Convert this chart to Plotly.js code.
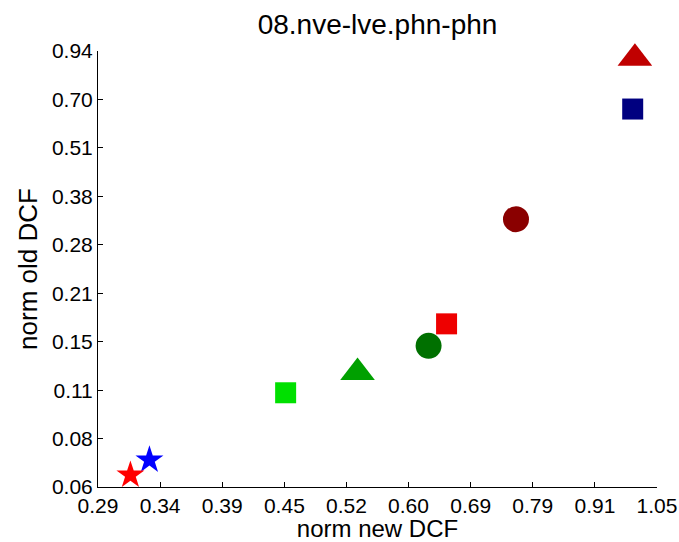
<!DOCTYPE html>
<html>
<head>
<meta charset="utf-8">
<script src="https://cdn.plot.ly/plotly-3.0.1.min.js"></script>
<style>html,body{margin:0;padding:0;background:#fff;}#chart{width:679px;height:542px;}</style>
</head>
<body>
<div id="chart"></div>
<script>
// data values (log-log axes)
const newDCF = [0.997, 0.992, 0.761, 0.650, 0.624, 0.531, 0.451, 0.331, 0.317];
const oldDCF = [0.898, 0.655, 0.330, 0.172, 0.150, 0.127, 0.112, 0.0737, 0.0671];

// marker styles
const symbols = ['triangle-up', 'square', 'circle', 'square', 'circle', 'triangle-up', 'square', 'star', 'star'];
const colors  = ['#c00000', '#000080', '#8a0000', '#ee0000', '#007000', '#00a000', '#00e000', '#0000ff', '#ff0000'];
const sizes   = [30, 21, 26, 21, 26, 30, 21, 21, 21];

// tick positions and labels
const xTickVals = [0.2945, 0.3391, 0.3905, 0.4497, 0.5178, 0.5962, 0.6866, 0.7906, 0.9104, 1.0483];
const xTickText = ['0.29', '0.34', '0.39', '0.45', '0.52', '0.60', '0.69', '0.79', '0.91', '1.05'];
const yTickVals = [0.0623, 0.0842, 0.1138, 0.1539, 0.2081, 0.2813, 0.3803, 0.5142, 0.6952, 0.94];
const yTickText = ['0.06', '0.08', '0.11', '0.15', '0.21', '0.28', '0.38', '0.51', '0.70', '0.94'];

const font = 'Liberation Sans, Arial, Helvetica, sans-serif';

const trace = {
  x: newDCF,
  y: oldDCF,
  mode: 'markers',
  type: 'scatter',
  cliponaxis: false,
  marker: {symbol: symbols, color: colors, size: sizes, opacity: 1, line: {width: 0}},
  hoverinfo: 'x+y'
};

const layout = {
  width: 679,
  height: 542,
  margin: {l: 98, r: 22, t: 51, b: 55},
  paper_bgcolor: '#fff',
  plot_bgcolor: '#fff',
  showlegend: false,
  font: {family: font, color: '#000'},
  title: {text: '08.nve-lve.phn-phn', font: {size: 28, family: font, color: '#000'}, x: 0.556, xanchor: 'center', y: 0.955, yanchor: 'middle'},
  xaxis: {
    type: 'log',
    range: [Math.log10(0.2945), Math.log10(1.0483)],
    tickmode: 'array', tickvals: xTickVals, ticktext: xTickText,
    ticks: 'inside', ticklen: 5, tickcolor: '#000', tickwidth: 1,
    showline: true, linecolor: '#000', linewidth: 1, mirror: false,
    showgrid: false, zeroline: false,
    ticklabelstandoff: 0,
    tickfont: {size: 21, family: font, color: '#000'},
    title: {text: 'norm new DCF', font: {size: 24, family: font, color: '#000'}, standoff: 2}
  },
  yaxis: {
    type: 'log',
    range: [Math.log10(0.0623), Math.log10(0.94)],
    tickmode: 'array', tickvals: yTickVals, ticktext: yTickText,
    ticks: 'inside', ticklen: 5, tickcolor: '#000', tickwidth: 1,
    showline: true, linecolor: '#000', linewidth: 1, mirror: false,
    showgrid: false, zeroline: false,
    ticklabelstandoff: 0,
    tickfont: {size: 21, family: font, color: '#000'},
    title: {text: 'norm old DCF', font: {size: 26, family: font, color: '#000'}, standoff: 6}
  }
};

Plotly.newPlot('chart', [trace], layout, {displayModeBar: false, staticPlot: true});
</script>
</body>
</html>
